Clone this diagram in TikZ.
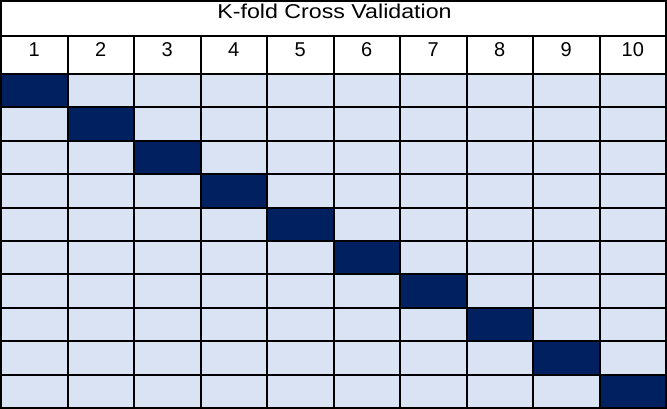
\documentclass[tikz,border=0pt]{standalone}
\usepackage{fontspec}
\setmainfont{Liberation Sans}
\definecolor{cellblue}{HTML}{DAE3F3}
\definecolor{foldnavy}{HTML}{002060}
\begin{document}
\begin{tikzpicture}[x=1pt, y=-1pt, line width=2pt, every node/.style={font=\fontsize{20}{22}\selectfont, inner sep=0pt, anchor=base}]
	\useasboundingbox (0,0) rectangle (667,409);
	\fill[white] (0,0) rectangle (667,409);
	
	% helle Zellen
	\fill[cellblue] (1,74) rectangle (666,408);
	
	% Validierungs-Folds (Diagonale)
	\foreach \i in {0,...,9}
		\fill[foldnavy] ({1+\i*66.5},{74+\i*33.4}) rectangle ({1+(\i+1)*66.5},{74+(\i+1)*33.4});
	
	% Gitter
	\foreach \r in {0,...,10}
		\draw ({1},{74+\r*33.4}) -- ({666},{74+\r*33.4});
	\foreach \c in {1,...,9}
		\draw ({1+\c*66.5},36) -- ({1+\c*66.5},408);
	\draw (1,36) -- (666,36);
	\draw (1,1) rectangle (666,408);
	
	% Titel
	\node[xscale=1.16] (title) at (334.5,18.5) {K-fold Cross Validation};
	
	% Spaltenkoepfe
	\foreach \c in {1,...,10}
		\node (head\c) at ({1+(\c-0.5)*66.5},57) {\c};
\end{tikzpicture}
\end{document}
